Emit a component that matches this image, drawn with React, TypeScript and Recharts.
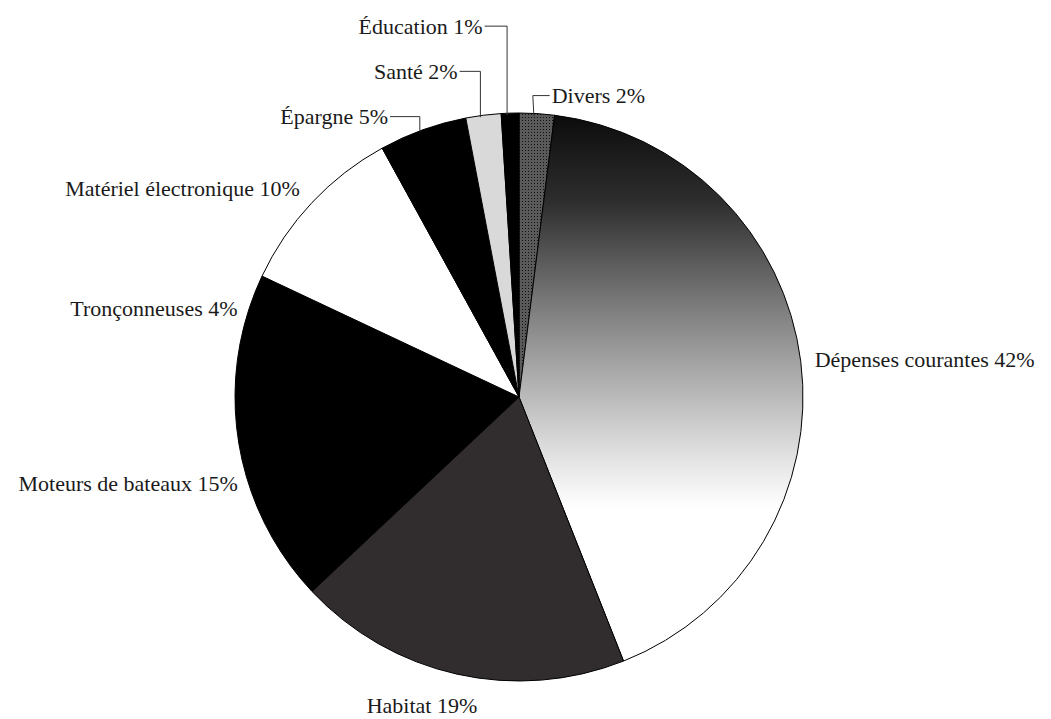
import { PieChart, Pie, Cell } from 'recharts';

// clockwise from 12 o'clock
const CATEGORIES = [
  'Divers',
  'Dépenses courantes',
  'Habitat',
  'Moteurs de bateaux',
  'Tronçonneuses',
  'Matériel électronique',
  'Épargne',
  'Santé',
  'Éducation',
];
const SHARES = [2, 42, 19, 15, 4, 10, 5, 2, 1];

const FILLS: Record<string, string> = {
  Divers: 'url(#diversDots)',
  'Dépenses courantes': 'url(#depGrad)',
  Habitat: '#312d2f',
  'Moteurs de bateaux': '#000',
  Tronçonneuses: '#000',
  'Matériel électronique': '#fff',
  Épargne: '#000',
  Santé: '#d9d9d9',
  Éducation: '#000',
};

// label nudges relative to the point just outside the slice
const LABEL_NUDGE: Record<string, { dx: number; dy: number; anchor?: string; leader?: boolean }> = {
  'Dépenses courantes': { dx: 0, dy: 0 },
  Habitat: { dx: -32, dy: 18, anchor: 'middle' },
  'Moteurs de bateaux': { dx: 5, dy: 3 },
  Tronçonneuses: { dx: 2, dy: 4 },
  'Matériel électronique': { dx: -2, dy: -4 },
  Épargne: { dx: -30, dy: 0, leader: true },
  Santé: { dx: -24, dy: -30, leader: true },
  Éducation: { dx: -27, dy: -73, leader: true },
  Divers: { dx: 14, dy: -4, leader: true },
};

const DATA = CATEGORIES.map((name, i) => ({ name, value: SHARES[i] }));

const RAD = Math.PI / 180;
const polar = (cx: number, cy: number, r: number, a: number) => ({
  x: cx + r * Math.cos(-a * RAD),
  y: cy + r * Math.sin(-a * RAD),
});

function renderLabel(props: any) {
  const { cx, cy, midAngle, outerRadius, name, value } = props;
  const nudge = LABEL_NUDGE[name] || { dx: 0, dy: 0 };
  const base = polar(cx, cy, outerRadius + 14, midAngle);
  const x = base.x + nudge.dx;
  const y = base.y + nudge.dy;
  const anchor = nudge.anchor || (x > cx ? 'start' : 'end');
  const edge = polar(cx, cy, outerRadius, midAngle);
  let leader = null;
  if (nudge.leader) {
    const sx = anchor === 'start' ? x - 2 : x + 2;
    const elbow = x > cx ? edge.x - 4 : edge.x - 3;
    leader = (
      <polyline
        points={`${sx},${y} ${elbow},${y} ${edge.x - 3},${edge.y + 2}`}
        fill="none"
        stroke="#333"
        strokeWidth={1}
      />
    );
  }
  return (
    <g key={`lbl-${name}`}>
      {leader}
      <text
        x={x}
        y={y}
        dy="0.34em"
        textAnchor={anchor}
        fill="#1a1a1a"
        fontFamily="'Liberation Serif', 'Times New Roman', serif"
        fontSize={22}
      >
        {`${name} ${value}%`}
      </text>
    </g>
  );
}

export default function App() {
  return (
    <div style={{ position: 'absolute', left: 0, top: 0, background: '#fff' }}>
      <PieChart width={1051} height={719} margin={{ top: 0, right: 0, bottom: 0, left: 0 }}>
        <defs>
          <linearGradient id="depGrad" x1="0" y1="0" x2="0" y2="1">
            <stop offset="0" stopColor="#0c0c0c" />
            <stop offset="0.16" stopColor="#2e2e2e" />
            <stop offset="0.34" stopColor="#787878" />
            <stop offset="0.5" stopColor="#b4b4b4" />
            <stop offset="0.62" stopColor="#e0e0e0" />
            <stop offset="0.72" stopColor="#fff" />
            <stop offset="1" stopColor="#fff" />
          </linearGradient>
          <pattern id="diversDots" width="3" height="3" patternUnits="userSpaceOnUse">
            <rect width="3" height="3" fill="#5a5a5a" />
            <rect width="1" height="1" fill="#111" />
          </pattern>
        </defs>
        <Pie
          data={DATA}
          dataKey="value"
          nameKey="name"
          cx={519}
          cy={397}
          outerRadius={284}
          startAngle={90}
          endAngle={-270}
          stroke="#000"
          strokeWidth={1}
          labelLine={false}
          label={renderLabel}
          isAnimationActive={false}
        >
          {DATA.map((d) => (
            <Cell key={d.name} fill={FILLS[d.name]} />
          ))}
        </Pie>
      </PieChart>
    </div>
  );
}
